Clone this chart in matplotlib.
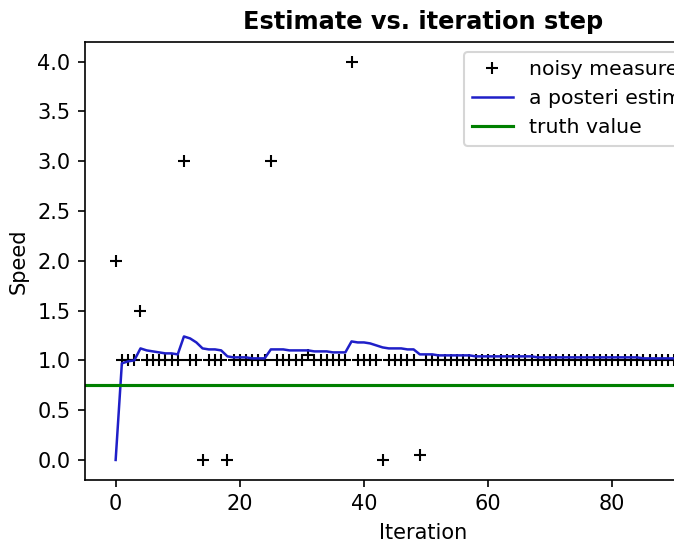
import matplotlib
matplotlib.use("Agg")
import matplotlib.pyplot as plt

# noisy speed measurements, one per iteration
measurements = [
    2.0, 1.0, 1.0, 1.0, 1.5, 1.0, 1.0, 1.0, 1.0, 1.0,
    1.0, 3.0, 1.0, 1.0, 0.0, 1.0, 1.0, 1.0, 0.0, 1.0,
    1.0, 1.0, 1.0, 1.0, 1.0, 3.0, 1.0, 1.0, 1.0, 1.0,
    1.0, 1.05, 1.0, 1.0, 1.0, 1.0, 1.0, 1.0, 4.0, 1.0,
    1.0, 1.0, 1.0, 0.0, 1.0, 1.0, 1.0, 1.0, 1.0, 0.05,
    1.0, 1.0, 1.0, 1.0, 1.0, 1.0, 1.0, 1.0, 1.0, 1.0,
    1.0, 1.0, 1.0, 1.0, 1.0, 1.0, 1.0, 1.0, 1.0, 1.0,
    1.0, 1.0, 1.0, 1.0, 1.0, 1.0, 1.0, 1.0, 1.0, 1.0,
    1.0, 1.0, 1.0, 1.0, 1.0, 1.0, 1.0, 1.0, 1.0, 1.0,
    1.0, 1.0, 1.0, 1.0, 1.0, 1.0, 1.0, 1.0, 1.0, 1.0,
]

# a posteriori estimates
estimates = [
    0.0, 0.97, 0.99, 1.0, 1.12, 1.10, 1.09, 1.08, 1.07, 1.07,
    1.06, 1.24, 1.22, 1.18, 1.12, 1.11, 1.11, 1.10, 1.04, 1.03,
    1.03, 1.03, 1.02, 1.02, 1.02, 1.11, 1.11, 1.11, 1.10, 1.10,
    1.10, 1.10, 1.09, 1.09, 1.09, 1.08, 1.08, 1.08, 1.19, 1.18,
    1.18, 1.17, 1.15, 1.13, 1.12, 1.12, 1.12, 1.11, 1.11, 1.06,
    1.06, 1.06, 1.05, 1.05, 1.05, 1.05, 1.05, 1.05, 1.04, 1.04,
    1.04, 1.04, 1.04, 1.04, 1.04, 1.04, 1.04, 1.04, 1.03, 1.03,
    1.03, 1.03, 1.03, 1.03, 1.03, 1.03, 1.03, 1.03, 1.03, 1.03,
    1.03, 1.03, 1.03, 1.03, 1.03, 1.02, 1.02, 1.02, 1.02, 1.02,
    1.02, 1.02, 1.02, 1.02, 1.02, 1.02, 1.02, 1.02, 1.02, 1.02,
]

truth = 0.75
iterations = list(range(len(measurements)))

fig = plt.figure(figsize=(674 / 150, 541 / 150), dpi=150)
# the original screenshot is cut off on the right, so the axes run past the edge
ax = fig.add_axes([0.126, 0.113, 1.003, 0.810])

ax.plot(iterations, measurements, "k+", label="noisy measurements")
ax.plot(iterations, estimates, color="#1f1fc8", lw=1.2, label="a posteri estimate")
ax.axhline(truth, color="g", lw=1.5, label="truth value")

ax.set_title("Estimate vs. iteration step", fontweight="bold", fontsize=11.5)
ax.set_xlabel("Iteration")
ax.set_ylabel("Speed")
ax.set_ylim(-0.2, 4.2)
ax.legend(loc="upper right", fontsize=9.8)

fig.savefig("out.png", dpi=150)
